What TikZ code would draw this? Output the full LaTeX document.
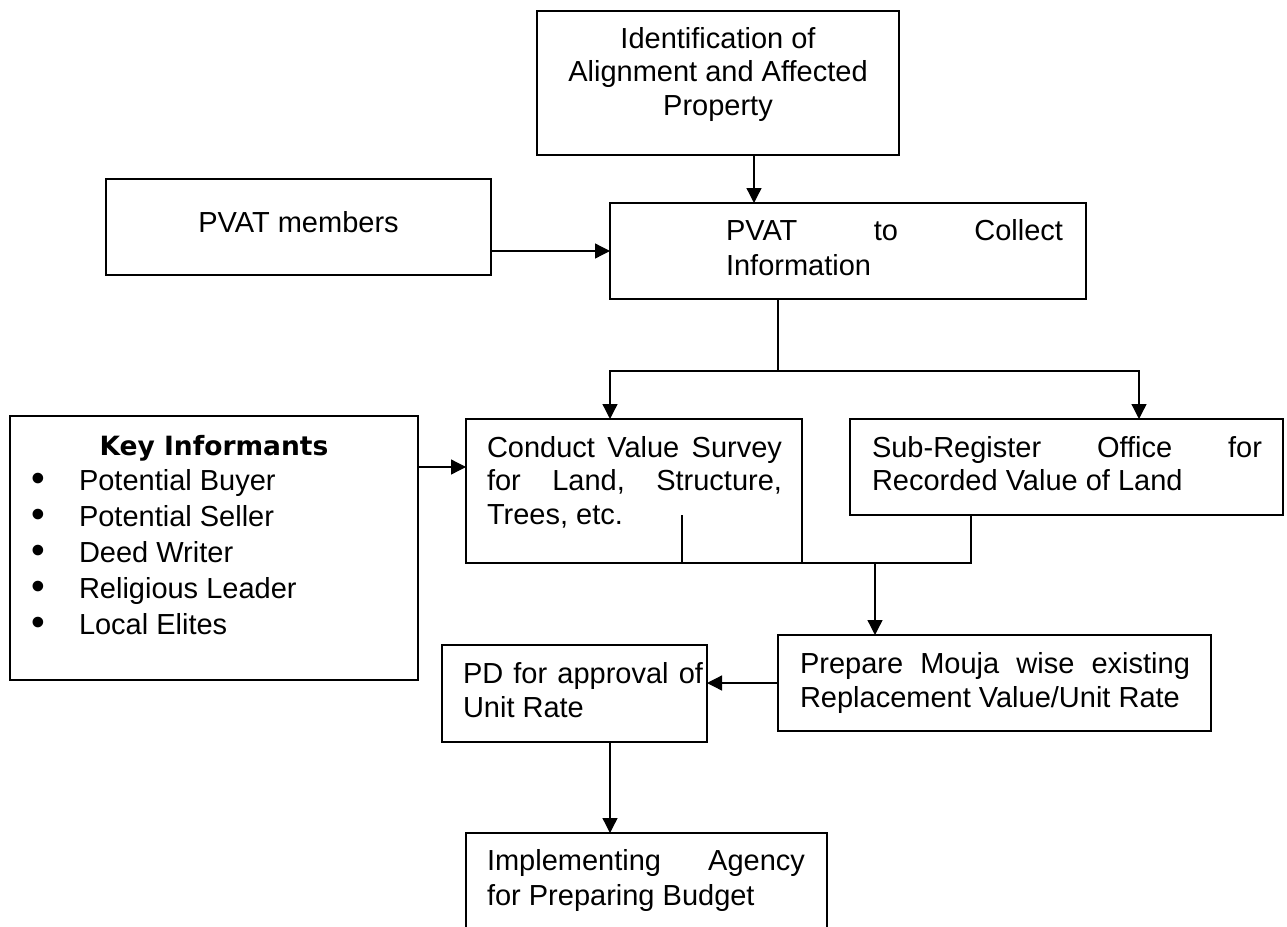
\documentclass[tikz,border=0pt]{standalone}
\usepackage{fontspec}
\setmainfont{Liberation Sans}
\newfontfamily\titlefont{DejaVu Sans}
\usetikzlibrary{arrows.meta}
% #1 box width, #2 box height, #3 first baseline from top, #4 left indent, #5 text width, #6 text
\newcommand{\boxtxt}[6]{\parbox[c][#2][t]{#1}{\vspace*{\dimexpr#3-\ht\strutbox\relax}\hspace*{#4}\parbox[t]{#5}{#6}}}
\newcommand{\itm}[1]{\hspace*{21pt}\makebox[48pt][l]{\raisebox{-1pt}{\scalebox{1.35}{\textbullet}}}#1}
\begin{document}
\begin{tikzpicture}[x=1pt,y=-1pt,
  bx/.style={draw, rectangle, line width=1.8pt, inner sep=0pt, outer sep=0pt, anchor=north west},
  ln/.style={line width=1.3pt, line join=miter},
  arr/.style={ln, -{Triangle[length=15pt,width=15pt]}}]
\useasboundingbox (0,0) rectangle (1287,926);
\clip (0,0) rectangle (1287,926);

\node[bx, font=\fontsize{29}{33.5}\selectfont] (ident) at (537,11)
  {\boxtxt{362pt}{144pt}{37pt}{0pt}{362pt}{\centering\strut Identification of\\Alignment and Affected\\Property}};

\node[bx, font=\fontsize{29}{34}\selectfont] (members) at (106,179)
  {\boxtxt{385pt}{96pt}{53pt}{0pt}{385pt}{\centering\strut PVAT members}};

\node[bx, font=\fontsize{29}{35}\selectfont] (collect) at (610,203)
  {\boxtxt{476pt}{96pt}{37pt}{116pt}{337pt}{\strut PVAT\hfill to\hfill Collect\\Information}};

\node[bx, font=\fontsize{29}{35.8}\selectfont] (key) at (10,416)
  {\boxtxt{408pt}{264pt}{39pt}{0pt}{408pt}{\strut\makebox[\linewidth][c]{\titlefont\bfseries\fontsize{26.5}{30}\selectfont Key Informants}\\
   \itm{Potential Buyer}\\
   \itm{Potential Seller}\\
   \itm{Deed Writer}\\
   \itm{Religious Leader}\\
   \itm{Local Elites}}};

\node[bx, font=\fontsize{29}{33.5}\selectfont] (conduct) at (466,419)
  {\boxtxt{336pt}{144pt}{38pt}{21pt}{295pt}{\strut Conduct\hfill Value\hfill Survey\\for\hfill Land,\hfill Structure,\\Trees, etc.}};

\node[bx, font=\fontsize{29}{33}\selectfont] (subreg) at (850,419)
  {\boxtxt{433pt}{96pt}{38pt}{22pt}{390pt}{\strut Sub-Register\hfill Office\hfill for\\Recorded Value of Land}};

\node[bx, font=\fontsize{29}{34}\selectfont] (prepare) at (778,635)
  {\boxtxt{433pt}{96pt}{38pt}{22pt}{390pt}{\strut Prepare\hfill Mouja\hfill wise\hfill existing\\Replacement Value/Unit Rate}};

\node[bx, font=\fontsize{29}{34}\selectfont] (pd) at (442,645)
  {\boxtxt{265pt}{97pt}{38pt}{21pt}{240pt}{\strut PD\hfill for\hfill approval\hfill of\\Unit Rate}};

\node[bx, font=\fontsize{29}{35}\selectfont] (impl) at (466,833)
  {\boxtxt{361pt}{130pt}{37pt}{21pt}{318pt}{\strut Implementing\hfill Agency\\for Preparing Budget}};

\coordinate (a1) at (754,0);
\coordinate (c1) at (778,371);
\coordinate (bl) at (610,371);
\coordinate (br) at (1139,371);
\coordinate (k1) at (0,467);
\coordinate (j1) at (682,515);
\coordinate (j2) at (682,563);
\coordinate (j3) at (971,563);
\coordinate (j4) at (875,563);
\coordinate (p1) at (610,0);

\draw[arr] (ident.south -| a1) -- (collect.north -| a1);
\draw[arr] (members.east |- collect.west) -- (collect.west);
\draw[ln] (collect.south -| c1) -- (c1);
\draw[arr] (c1) -- (bl) -- (conduct.north -| bl);
\draw[arr] (c1) -- (br) -- (subreg.north -| br);
\draw[arr] (key.east |- k1) -- (conduct.west |- k1);
\draw[ln] (j1) -- (j2) -- (j3) -- (subreg.south -| j3);
\draw[arr] (j4) -- (prepare.north -| j4);
\draw[arr] (prepare.west) -- (pd.east |- prepare.west);
\draw[arr] (pd.south -| p1) -- (impl.north -| p1);
\end{tikzpicture}
\end{document}
